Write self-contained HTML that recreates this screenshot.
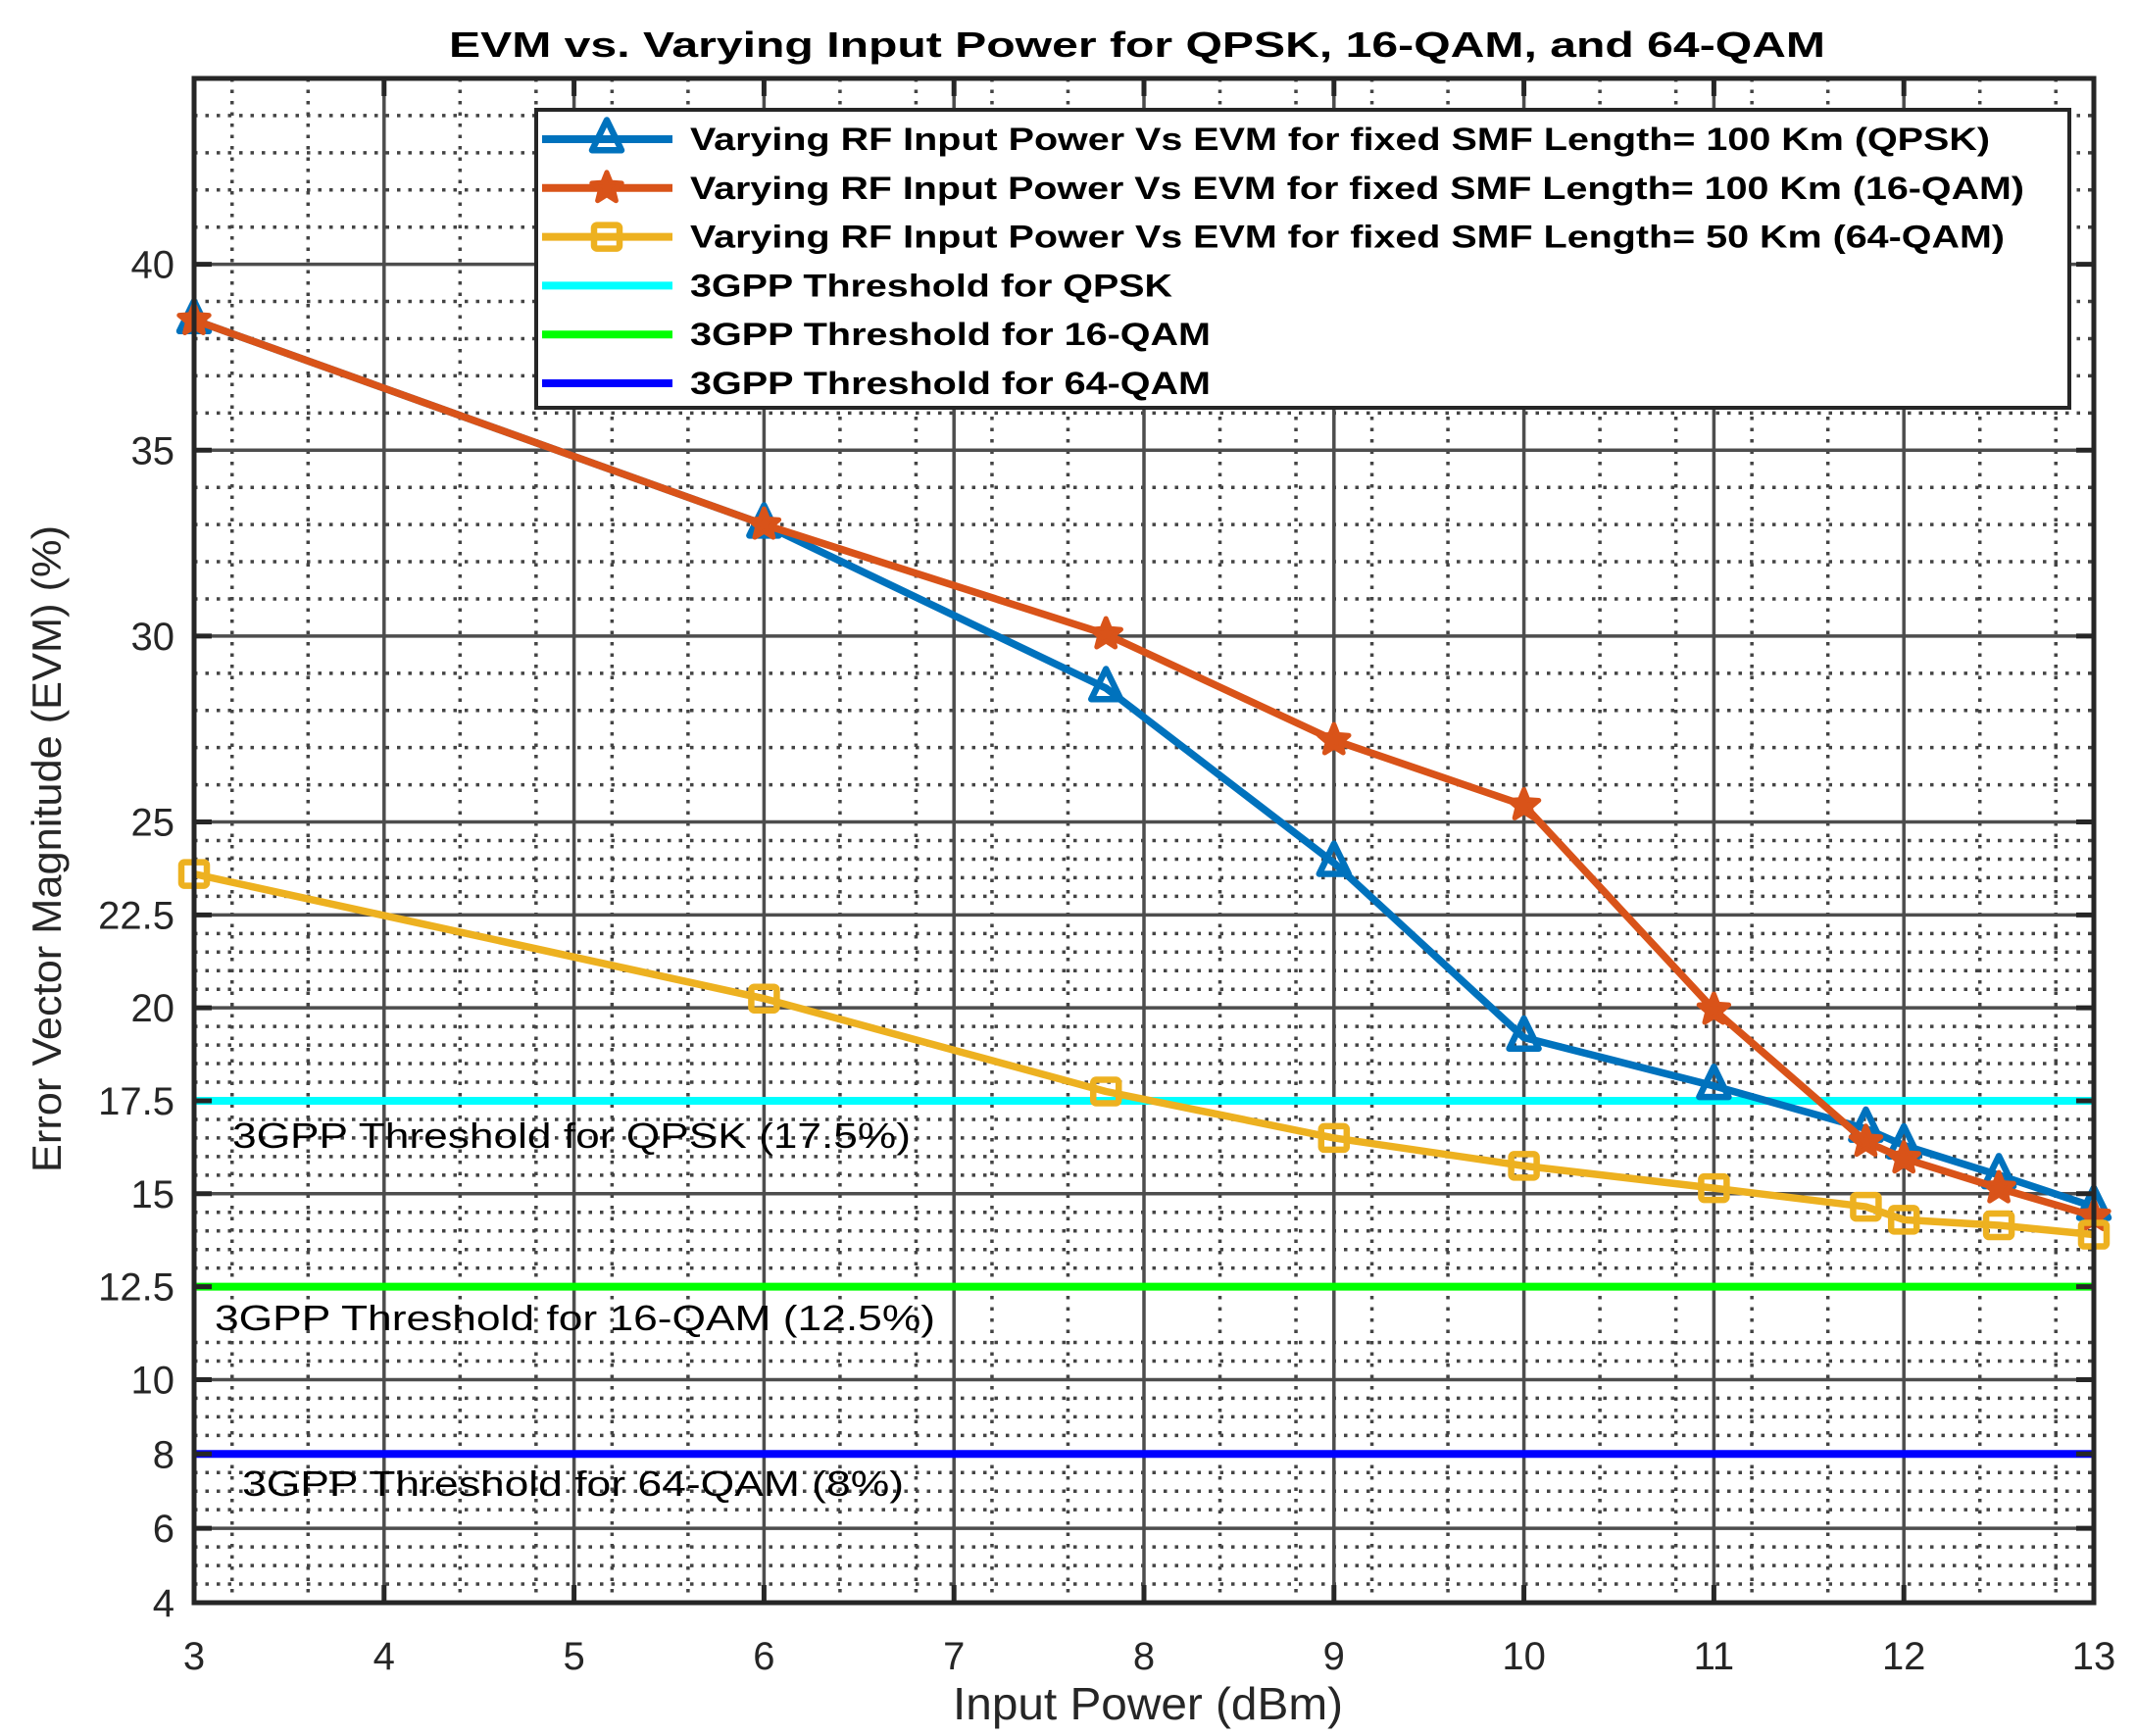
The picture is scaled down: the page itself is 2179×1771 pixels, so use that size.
<!DOCTYPE html>
<html><head><meta charset="utf-8"><style>
html,body{margin:0;padding:0;background:#fff;}
svg{display:block;font-family:"Liberation Sans",Arial,sans-serif;}
</style></head><body>
<svg id="chart" width="2179" height="1771" viewBox="0 0 2179 1771" xmlns="http://www.w3.org/2000/svg">
<rect width="2179" height="1771" fill="#fff"/>
<g id="grid"></g>
<g id="thresholds"></g>
<g id="series"></g>
<g id="axes"></g>
<text x="1160" y="58" text-anchor="middle" font-size="36" font-weight="bold" fill="#000" textLength="1404" lengthAdjust="spacingAndGlyphs">EVM vs. Varying Input Power for QPSK, 16-QAM, and 64-QAM</text>
<text x="1171" y="1754" text-anchor="middle" font-size="46" fill="#262626" textLength="398" lengthAdjust="spacingAndGlyphs">Input Power (dBm)</text>
<text transform="translate(62,866) rotate(-90)" text-anchor="middle" font-size="42" fill="#262626" textLength="660" lengthAdjust="spacingAndGlyphs">Error Vector Magnitude (EVM) (%)</text>
<text x="237" y="1171" font-size="36" fill="#000" textLength="692" lengthAdjust="spacingAndGlyphs">3GPP Threshold for QPSK (17.5%)</text>
<text x="219" y="1357" font-size="36" fill="#000" textLength="735" lengthAdjust="spacingAndGlyphs">3GPP Threshold for 16-QAM (12.5%)</text>
<text x="247" y="1526" font-size="36" fill="#000" textLength="675" lengthAdjust="spacingAndGlyphs">3GPP Threshold for 64-QAM (8%)</text>
<g id="legend"></g>
</svg>
<script>
const xValues = [3, 6, 7.8, 9, 10, 11, 11.8, 12, 12.5, 13];
const qpskEvm = [38.5, 33.0, 28.6, 23.9, 19.2, 17.9, 16.75, 16.3, 15.5, 14.65];
const qam16Evm = [38.5, 33.0, 30.05, 27.2, 25.45, 19.95, 16.4, 15.95, 15.15, 14.4];
const qam64Evm = [23.6, 20.25, 17.75, 16.5, 15.75, 15.15, 14.65, 14.3, 14.15, 13.9];
const thresholdValues = [17.5, 12.5, 8];
const xTicks = [3, 4, 5, 6, 7, 8, 9, 10, 11, 12, 13];
const yTicks = [4, 6, 8, 10, 12.5, 15, 17.5, 20, 22.5, 25, 30, 35, 40];
const yTickLabels = ["4", "6", "8", "10", "12.5", "15", "17.5", "20", "22.5", "25", "30", "35", "40"];
const legendLabels = [
 "Varying RF Input Power Vs EVM for fixed SMF Length= 100 Km (QPSK)",
 "Varying RF Input Power Vs EVM for fixed SMF Length= 100 Km (16-QAM)",
 "Varying RF Input Power Vs EVM for fixed SMF Length= 50 Km (64-QAM)",
 "3GPP Threshold for QPSK",
 "3GPP Threshold for 16-QAM",
 "3GPP Threshold for 64-QAM"];

const NS = "http://www.w3.org/2000/svg";
const L = 198, R = 2136, T = 80, B = 1635;
const xMin = 3, xMax = 13, yMin = 4, yMax = 45;
function sx(v){ return L + (v - xMin) / (xMax - xMin) * (R - L); }
function sy(v){ return B - (v - yMin) / (yMax - yMin) * (B - T); }
function mk(tag, attrs, parent){ const e = document.createElementNS(NS, tag); for (const k in attrs) e.setAttribute(k, attrs[k]); parent.appendChild(e); return e; }

const grid = document.getElementById('grid');
for (let i = 8; i <= 32; i++) {
  const v = i * 0.4;
  if (v <= xMin + 0.01 || v >= xMax - 0.01) continue;
  if (Math.abs(v - Math.round(v)) < 0.01) continue;
  const ln = mk('line', {x1: sx(v), x2: sx(v), y1: T, y2: B, stroke: '#444', 'stroke-width': 3.5, 'stroke-dasharray': '3.5 8'}, grid);
  
  
}
const minorY = [];
for (let v = 4.5; v < 25; v += 0.5) { if (yTicks.indexOf(v) < 0 && v !== 11.5 && v !== 12) minorY.push(v); }
for (let v = 26; v < 45; v += 1) { if (yTicks.indexOf(v) < 0) minorY.push(v); }
minorY.forEach(v => {
  const ln = mk('line', {x1: L, x2: R, y1: sy(v), y2: sy(v), stroke: '#444', 'stroke-width': 3.5, 'stroke-dasharray': '3.5 8'}, grid);
  
  
});
xTicks.forEach(v => {
  const ln = mk('line', {x1: sx(v), x2: sx(v), y1: T, y2: B, stroke: '#4d4d4d', 'stroke-width': 3.5}, grid);
  
  
});
yTicks.forEach(v => {
  const ln = mk('line', {x1: L, x2: R, y1: sy(v), y2: sy(v), stroke: '#4d4d4d', 'stroke-width': 3.5}, grid);
  
  
});

const thColors = ['#00FFFF', '#00FF00', '#0000FF'];
const th = document.getElementById('thresholds');
thresholdValues.forEach((v, i) => {
  const ln = mk('line', {x1: L, x2: R, y1: sy(v), y2: sy(v), stroke: thColors[i], 'stroke-width': 8}, th);
  
  
});

function marker(type, x, y, color, parent){
  let e;
  if (type === 'tri') {
    const s = 15;
    e = mk('polygon', {points: `${x},${y-s*1.3} ${x-s},${y+s*0.75} ${x+s},${y+s*0.75}`, fill: 'none', stroke: color, 'stroke-width': 6.5, 'stroke-linejoin': 'round'}, parent);
  } else if (type === 'star') {
    const pts = [];
    for (let k = 0; k < 10; k++) { const r = k % 2 ? 7 : 16; const a = -Math.PI/2 + k*Math.PI/5; pts.push((x + r*Math.cos(a)).toFixed(1) + ',' + (y + r*Math.sin(a)).toFixed(1)); }
    e = mk('polygon', {points: pts.join(' '), fill: color, stroke: color, 'stroke-width': 5, 'stroke-linejoin': 'round'}, parent);
  } else {
    e = mk('rect', {x: x-13, y: y-12, width: 26, height: 24, rx: 3, fill: 'none', stroke: color, 'stroke-width': 6.5}, parent);
  }
  return e;
}
const seriesLayer = document.getElementById('series');
const seriesDefs = [
  {name: 'qpsk', data: qpskEvm, color: '#0072BD', m: 'tri'},
  {name: 'qam16', data: qam16Evm, color: '#D95319', m: 'star'},
  {name: 'qam64', data: qam64Evm, color: '#EDB120', m: 'sq'}
];
seriesDefs.forEach(s => {
  const g = mk('g', {}, seriesLayer);
  
  
  const pts = xValues.map((x, i) => sx(x) + ',' + sy(s.data[i])).join(' ');
  const pl = mk('polyline', {points: pts, fill: 'none', stroke: s.color, 'stroke-width': 7.5, 'stroke-linejoin': 'round'}, g);
  
  
  xValues.forEach((x, i) => {
    const m = marker(s.m, sx(x), sy(s.data[i]), s.color, g);
    
    
  });
});

const axes = document.getElementById('axes');
const frame = mk('rect', {x: L, y: T, width: R - L, height: B - T, fill: 'none', stroke: '#262626', 'stroke-width': 5}, axes);


xTicks.forEach(v => {
  const t = mk('line', {x1: sx(v), x2: sx(v), y1: B, y2: B - 18, stroke: '#262626', 'stroke-width': 5}, axes);
  
  
  const t2 = mk('line', {x1: sx(v), x2: sx(v), y1: T, y2: T + 18, stroke: '#262626', 'stroke-width': 5}, axes);
  
  
  const lb = mk('text', {x: sx(v), y: 1703, 'text-anchor': 'middle', 'font-size': 40, fill: '#262626'}, axes);
  lb.textContent = String(v);
  
  
});
yTicks.forEach((v, i) => {
  const t = mk('line', {x1: L, x2: L + 18, y1: sy(v), y2: sy(v), stroke: '#262626', 'stroke-width': 5}, axes);
  
  
  const t2 = mk('line', {x1: R, x2: R - 18, y1: sy(v), y2: sy(v), stroke: '#262626', 'stroke-width': 5}, axes);
  
  
  const lb = mk('text', {x: 178, y: sy(v) + 14, 'text-anchor': 'end', 'font-size': 40, fill: '#262626'}, axes);
  lb.textContent = yTickLabels[i];
  
  
});

const lg = document.getElementById('legend');
const box = mk('rect', {x: 547, y: 112, width: 1564, height: 304, fill: '#fff', stroke: '#262626', 'stroke-width': 4}, lg);


const lgColors = ['#0072BD', '#D95319', '#EDB120', '#00FFFF', '#00FF00', '#0000FF'];
const lgMarkers = ['tri', 'star', 'sq', null, null, null];
const lgLen = [1326, 1361, 1341, 492, 531, 531];
legendLabels.forEach((txt, i) => {
  const y = 142 + i * 49.8;
  const g = mk('g', {}, lg);
  
  
  mk('line', {x1: 553, x2: 686, y1: y, y2: y, stroke: lgColors[i], 'stroke-width': 8}, g);
  if (lgMarkers[i]) marker(lgMarkers[i], 619, y, lgColors[i], g);
  const t = mk('text', {x: 704, y: y + 11, 'font-size': 32, 'font-weight': 'bold', fill: '#000', textLength: lgLen[i], lengthAdjust: 'spacingAndGlyphs'}, g);
  t.textContent = txt;
  
  
});
</script>
</body></html>
